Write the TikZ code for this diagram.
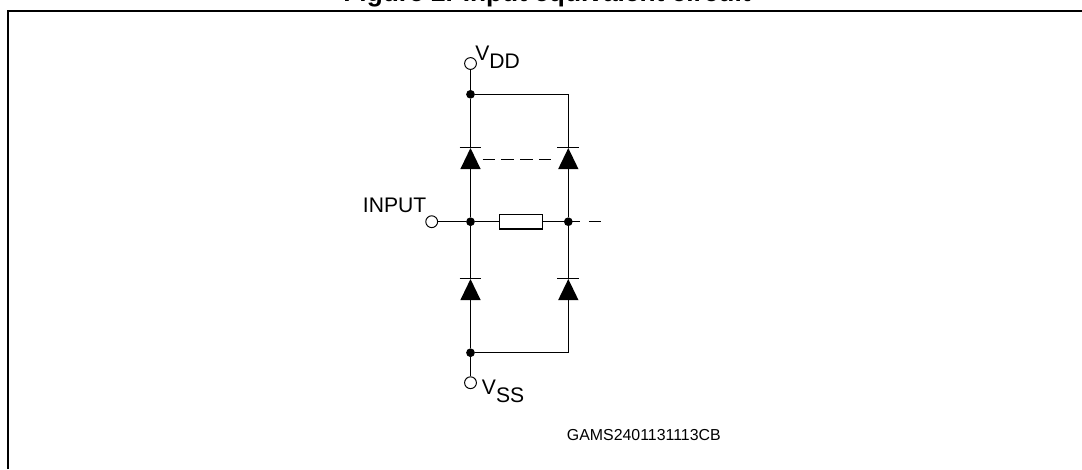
\documentclass[tikz,border=0pt]{standalone}
\usepackage{fontspec}
\setmainfont{Liberation Sans}
\usetikzlibrary{shapes.geometric}
\tikzstyle{wire} = [line width=0.95pt]
\tikzstyle{frameline} = [line width=1.45pt]
\tikzstyle{dot} = [circle, fill=black, inner sep=0pt, minimum size=6.2pt]
\tikzstyle{pin} = [circle, draw, fill=white, line width=0.7pt, inner sep=0pt, minimum size=8.4pt]
\tikzstyle{resistor} = [draw, fill=white, line width=0.95pt, inner sep=0pt, minimum width=30.5pt, minimum height=10.6pt]
\tikzstyle{diode} = [isosceles triangle, isosceles triangle stretches, shape border rotate=90, fill=black, inner sep=0pt, minimum height=15pt, minimum width=14.5pt, anchor=apex]
\tikzstyle{pinlabel} = [anchor=base west, inner sep=0pt, font=\fontsize{15}{15}\selectfont]
\begin{document}
\begin{tikzpicture}[x=0.025cm,y=-0.025cm]
\useasboundingbox (0,0) rectangle (1082,469);
\coordinate (framebl) at (8,469);
\coordinate (frametl) at (8,11);
\coordinate (frametr) at (1082,11);
\draw [frameline] (framebl) -- (frametl) -- (frametr);
\node (title) [anchor=base, inner sep=0pt, font=\fontsize{18.7}{19}\bfseries] at (547,1) {Figure 2. Input equivalent circuit};

\node (vdd) [pin] at (470.5,63.5) {};
\node (vss) [pin] at (470.5,382.7) {};
\node (input) [pin] at (431.7,221.7) {};
\node (jtop) [dot] at (470.5,94.3) {};
\node (jbot) [dot] at (470.5,352.7) {};
\node (jinl) [dot] at (470.5,221.7) {};
\node (jinr) [dot] at (568.3,221.7) {};
\node (res) [resistor] at (520.8,221.7) {};
\node (dul) [diode] at (470.5,147.3) {};
\node (dur) [diode] at (568.3,147.3) {};
\node (dll) [diode] at (470.5,278.3) {};
\node (dlr) [diode] at (568.3,278.3) {};

\draw [wire] (vdd) -- (jtop);
\draw [wire] (jtop) -- (dul.apex);
\draw [wire] (jtop) -| (dur.apex);
\draw [wire] (dul.lower side) -- (jinl);
\draw [wire] (dur.lower side) -- (jinr);
\draw [wire] (input) -- (jinl);
\draw [wire] (jinl) -- (res);
\draw [wire] (res) -- (jinr);
\draw [wire] (jinl) -- (dll.apex);
\draw [wire] (jinr) -- (dlr.apex);
\draw [wire] (dll.lower side) -- (jbot);
\draw [wire] (jbot) -| (dlr.lower side);
\draw [wire] (jbot) -- (vss);

\draw [wire] ([xshift=-7.8pt]dul.apex) -- ([xshift=7.8pt]dul.apex);
\draw [wire] ([xshift=-7.8pt]dur.apex) -- ([xshift=7.8pt]dur.apex);
\draw [wire] ([xshift=-7.8pt]dll.apex) -- ([xshift=7.8pt]dll.apex);
\draw [wire] ([xshift=-7.8pt]dlr.apex) -- ([xshift=7.8pt]dlr.apex);

\coordinate (dashend) at (601,221.7);
\coordinate (linkl) at (482.7,159.3);
\coordinate (linkr) at (553.2,159.3);
\draw [wire, dash pattern=on 8.5pt off 6.2pt] (jinr.center) -- (dashend);
\draw [wire, dash pattern=on 9pt off 4.3pt] (linkl) -- (linkr);

\node (vddlabel) [pinlabel] at (475,60) {V\raisebox{-5.7pt}{DD}};
\node (vsslabel) [pinlabel] at (481.7,394) {V\raisebox{-6.2pt}{SS}};
\node (inputlabel) [pinlabel] at (362.7,212.7) {INPUT};
\node (codelabel) [pinlabel, font=\fontsize{11.3}{12}\selectfont] at (566.7,440) {GAMS2401131113CB};
\end{tikzpicture}
\end{document}
